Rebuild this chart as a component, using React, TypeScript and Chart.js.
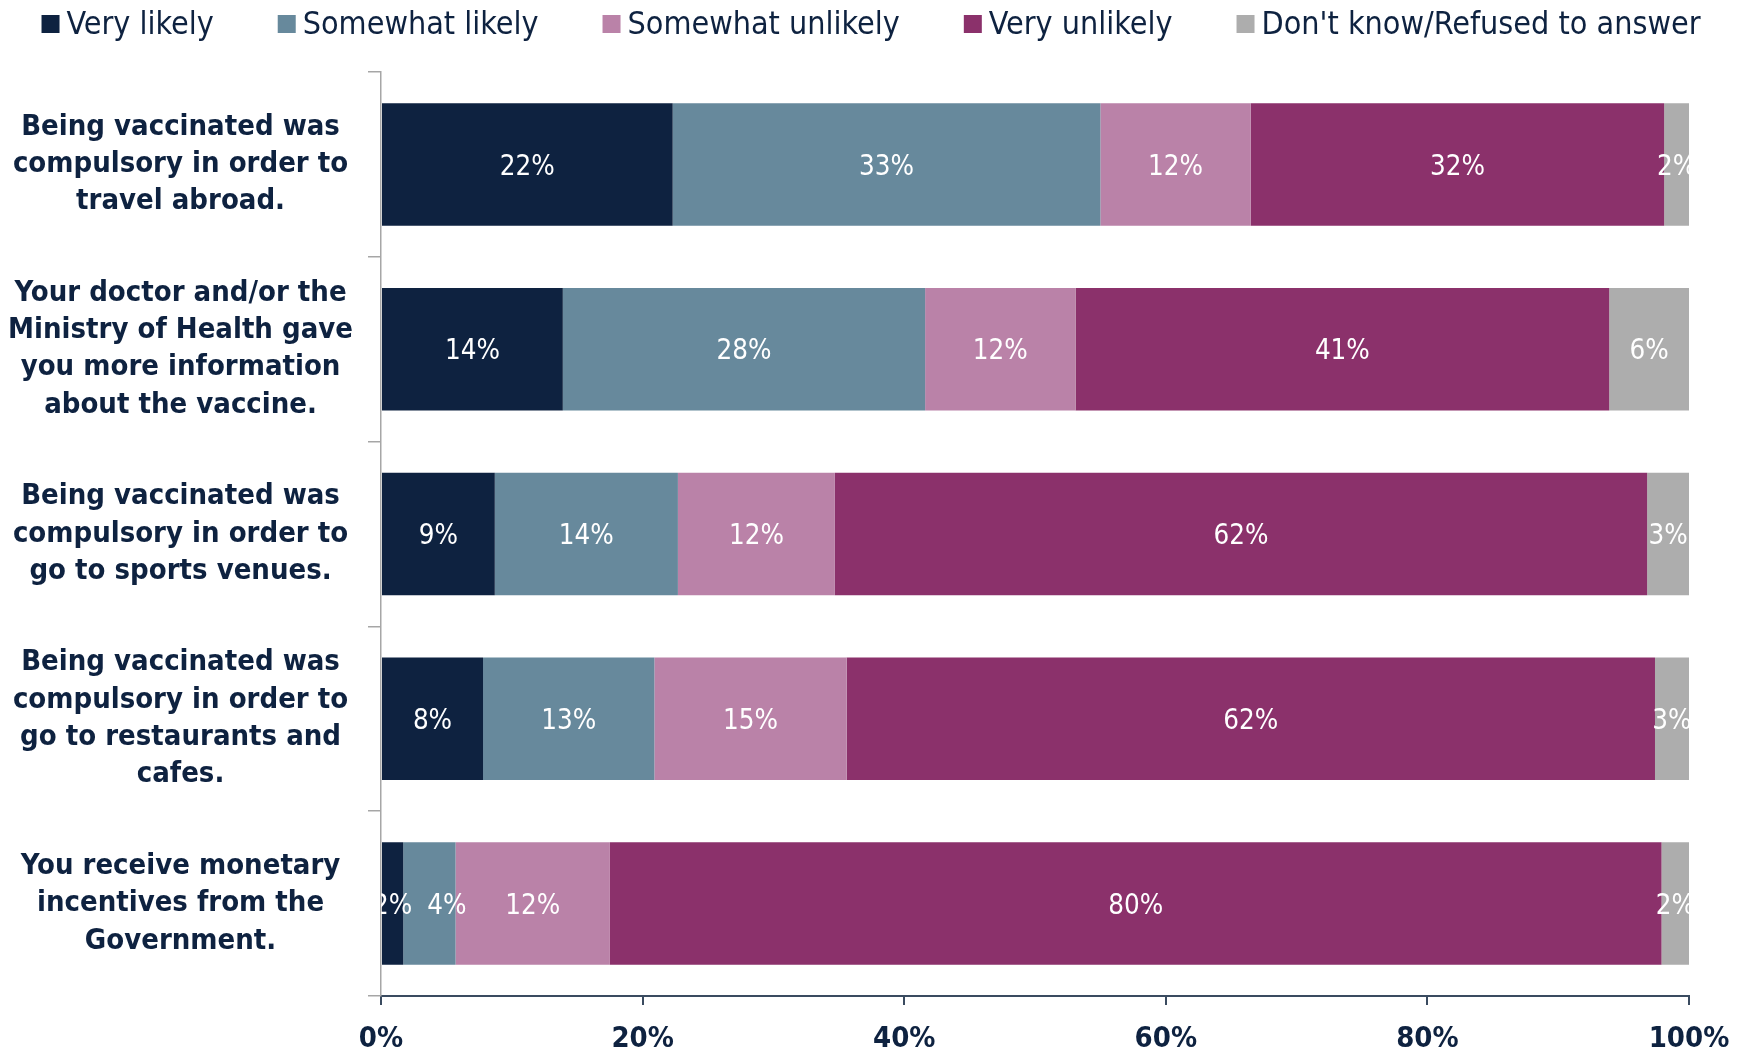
import React, { useEffect, useRef } from "react";
import { Chart, registerables } from "chart.js";

Chart.register(...registerables);

const categories: string[][] = [
  ["Being vaccinated was", "compulsory in order to", "travel abroad."],
  ["Your doctor and/or the", "Ministry of Health gave", "you more information", "about the vaccine."],
  ["Being vaccinated was", "compulsory in order to", "go to sports venues."],
  ["Being vaccinated was", "compulsory in order to", "go to restaurants and", "cafes."],
  ["You receive monetary", "incentives from the", "Government."],
];

const seriesNames = [
  "Very likely",
  "Somewhat likely",
  "Somewhat unlikely",
  "Very unlikely",
  "Don't know/Refused to answer",
];

const veryLikely = [22.3, 13.9, 8.7, 7.8, 1.7];
const somewhatLikely = [32.7, 27.7, 14.0, 13.1, 4.0];
const somewhatUnlikely = [11.5, 11.5, 12.0, 14.7, 11.8];
const veryUnlikely = [31.6, 40.8, 62.1, 61.8, 80.4];
const dontKnow = [1.9, 6.1, 3.2, 2.6, 2.1];

const seriesColors = ["#0E2240", "#67899C", "#BA82A8", "#8B316B", "#ADADAD"];

const xTicks = [0, 20, 40, 60, 80, 100];

const DARK = "#0E2240";
const COND = '"DejaVu Sans Condensed", "Liberation Sans", sans-serif';
const LEGEND_FONT = "32px " + COND;
const LABEL_FONT = "27.5px " + COND;

const dataLabelPlugin = {
  id: "dataLabels",
  afterDatasetsDraw(chart: any) {
    const { ctx, chartArea } = chart;
    ctx.save();
    ctx.beginPath();
    ctx.rect(chartArea.left, chartArea.top, chartArea.right - chartArea.left, chartArea.bottom - chartArea.top);
    ctx.clip();
    ctx.font = LABEL_FONT;
    ctx.fillStyle = "#FFFFFF";
    ctx.textAlign = "left";
    ctx.textBaseline = "middle";
    const n = chart.data.labels.length;
    for (let i = 0; i < n; i++) {
      let prevRight = -Infinity;
      chart.data.datasets.forEach((ds: any, di: number) => {
        const el: any = chart.getDatasetMeta(di).data[i];
        const text = Math.round(ds.data[i]) + "%";
        const w = ctx.measureText(text).width;
        const cx = (el.x + el.base) / 2;
        let left = cx - w / 2;
        if (left < prevRight + 15) left = prevRight + 15;
        ctx.fillText(text, left, el.y + 3);
        prevRight = left + w;
      });
    }
    ctx.restore();
  },
};

const legendPlugin = {
  id: "customLegend",
  afterDraw(chart: any) {
    const { ctx } = chart;
    const box = 18;
    const boxGap = 7;
    const itemGap = 64;
    ctx.save();
    ctx.font = LEGEND_FONT;
    const widths = chart.data.datasets.map((ds: any) => ctx.measureText(ds.label).width);
    const total =
      widths.reduce((a: number, w: number) => a + box + boxGap + w, 0) + itemGap * (widths.length - 1);
    let x = 871 - total / 2;
    const y = 24;
    chart.data.datasets.forEach((ds: any, i: number) => {
      ctx.fillStyle = ds.backgroundColor;
      ctx.fillRect(x, y - box / 2, box, box);
      ctx.fillStyle = DARK;
      ctx.textAlign = "left";
      ctx.textBaseline = "middle";
      ctx.fillText(ds.label, x + box + boxGap, y + 2);
      x += box + boxGap + widths[i] + itemGap;
    });
    ctx.restore();
  },
};

export default function App() {
  const ref = useRef<HTMLCanvasElement | null>(null);

  useEffect(() => {
    if (!ref.current) return;
    const values = [veryLikely, somewhatLikely, somewhatUnlikely, veryUnlikely, dontKnow];
    const chart = new Chart(ref.current, {
      type: "bar",
      data: {
        labels: categories as any,
        datasets: seriesNames.map((name, i) => ({
          label: name,
          data: values[i],
          backgroundColor: seriesColors[i],
          borderWidth: 0,
          barPercentage: 0.663,
          categoryPercentage: 1,
        })),
      },
      options: {
        indexAxis: "y",
        responsive: false,
        animation: false,
        maintainAspectRatio: false,
        layout: { padding: { top: 72, right: 59, left: 0, bottom: 0 } },
        plugins: {
          legend: { display: false },
          tooltip: { enabled: false },
        },
        scales: {
          x: {
            stacked: true,
            min: 0,
            max: 100,
            afterFit(scale: any) {
              scale.height = 53;
            },
            afterBuildTicks(scale: any) {
              scale.ticks = xTicks.map((v) => ({ value: v }));
            },
            ticks: {
              callback: (v: any) => v + "%",
              color: DARK,
              font: { family: COND, size: 29, weight: "bold" },
              padding: 17,
              maxRotation: 0,
            },
            grid: {
              drawOnChartArea: false,
              drawTicks: true,
              tickLength: 9,
              color: "#3A4B60",
              lineWidth: 2,
            },
            border: { color: "#3A4B60", width: 2 },
          },
          y: {
            stacked: true,
            afterFit(scale: any) {
              scale.width = 381;
              scale.paddingTop = 0;
              scale.paddingBottom = 0;
            },
            ticks: {
              color: DARK,
              font: { family: COND, size: 29, weight: "bold", lineHeight: 1.29 },
              crossAlign: "center",
              padding: 15,
            },
            grid: {
              drawOnChartArea: false,
              drawTicks: true,
              tickLength: 13,
              color: "#A6A6A6",
              lineWidth: 1.5,
              offset: true,
            },
            border: { color: "#A6A6A6", width: 1.5 },
          },
        },
      },
      plugins: [dataLabelPlugin, legendPlugin],
    });
    return () => chart.destroy();
  }, []);

  return (
    <div style={{ position: "fixed", left: 0, top: 0, width: 1748, height: 1049, background: "#fff" }}>
      <canvas ref={ref} width={1748} height={1049} style={{ display: "block" }} />
    </div>
  );
}
